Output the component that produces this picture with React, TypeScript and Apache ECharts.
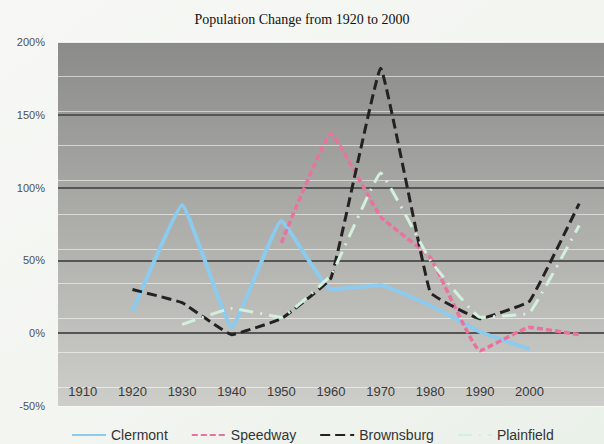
import React, { useEffect, useRef } from "react";
import * as echarts from "echarts";

const categories = ["1910", "1920", "1930", "1940", "1950", "1960", "1970", "1980", "1990", "2000", ""];
const clermont = [null, 15, 88, 4, 77, 30, 33, 19, 1, -11, null];
const speedway = [null, null, null, null, 62, 137, 80, 52, -12, 4, -1];
const brownsburg = [null, 30, 21, -1, 10, 38, 182, 28, 10, 22, 89];
const plainfield = [null, null, 6, 17, 11, 40, 110, 50, 11, 14, 74];
const yTicks = { min: -50, max: 200, interval: 50 };

export default function App() {
  const ref = useRef<HTMLDivElement>(null);
  useEffect(() => {
    document.body.style.margin = "0";
    const chart = echarts.init(ref.current!, null, { renderer: "svg" });
    chart.setOption({
      animation: false,
      backgroundColor: {
        type: "linear", x: 0, y: 0, x2: 1, y2: 1,
        colorStops: [
          { offset: 0, color: "#f7f8f5" },
          { offset: 0.5, color: "#f3f5f1" },
          { offset: 1, color: "#eaf1e9" },
        ],
      },
      title: {
        text: "Population Change from 1920 to 2000",
        left: "center",
        top: 7,
        textStyle: { fontFamily: "Liberation Serif", fontSize: 14, fontWeight: "normal", color: "#111" },
      },
      grid: {
        left: 58, right: 0, top: 42, bottom: 38,
        show: true,
        borderWidth: 0,
        backgroundColor: {
          type: "linear", x: 0, y: 0, x2: 0, y2: 1,
          colorStops: [
            { offset: 0, color: "#8b8b89" },
            { offset: 0.5, color: "#adadaa" },
            { offset: 1, color: "#cdcdc9" },
          ],
        },
      },
      legend: {
        left: 71,
        top: 428,
        padding: 0,
        itemWidth: 34,
        itemHeight: 14,
        itemGap: 23,
        itemStyle: { opacity: 0 },
        textStyle: { fontFamily: "Liberation Sans", fontSize: 14, color: "#333", lineHeight: 14 },
        data: ["Clermont", "Speedway", "Brownsburg", "Plainfield"],
      },
      xAxis: {
        type: "category",
        data: categories,
        boundaryGap: true,
        axisLine: { show: false },
        axisTick: { show: false },
        axisLabel: {
          inside: true,
          margin: 8,
          fontFamily: "Liberation Sans",
          fontSize: 13,
          color: "#3a3a3a",
        },
        splitLine: { show: false },
      },
      yAxis: [
        {
          type: "value",
          min: yTicks.min,
          max: yTicks.max,
          interval: yTicks.interval,
          axisLine: { show: false },
          axisTick: { show: false },
          axisLabel: {
            formatter: "{value}%",
            margin: 13,
            fontFamily: "Liberation Sans",
            fontSize: 11,
            color: "#505050",
          },
          splitLine: {
            show: true,
            lineStyle: {
              color: ["rgba(0,0,0,0)", "#555", "#555", "#555", "#555", "rgba(255,255,255,0.6)"],
              width: 2,
            },
          },
        },
        {
          type: "value",
          inverse: true,
          min: 0,
          max: 10.55,
          interval: 1,
          axisLine: { show: false },
          axisTick: { show: false },
          axisLabel: { show: false },
          splitLine: { show: true, lineStyle: { color: "rgba(255,255,255,0.55)", width: 1 } },
        },
      ],
      series: [
        {
          name: "Clermont",
          type: "line",
          data: clermont,
          smooth: 0.1,
          symbol: "none",
          lineStyle: { color: "#8ccbee", width: 4 },
          itemStyle: { color: "#8ccbee" },
        },
        {
          name: "Speedway",
          type: "line",
          data: speedway,
          smooth: 0.1,
          symbol: "none",
          lineStyle: { color: "#e8739f", width: 3.5, type: [6, 3] },
          itemStyle: { color: "#e8739f" },
        },
        {
          name: "Brownsburg",
          type: "line",
          data: brownsburg,
          smooth: 0.08,
          symbol: "none",
          lineStyle: { color: "#222", width: 3, type: [10, 5] },
          itemStyle: { color: "#222" },
        },
        {
          name: "Plainfield",
          type: "line",
          data: plainfield,
          smooth: 0.08,
          symbol: "none",
          lineStyle: { color: "#d2f0dc", width: 3, type: [14, 7, 2, 7] },
          itemStyle: { color: "#d2f0dc" },
        },
      ],
    });
    return () => chart.dispose();
  }, []);
  return <div ref={ref} style={{ width: 604, height: 444 }} />;
}
